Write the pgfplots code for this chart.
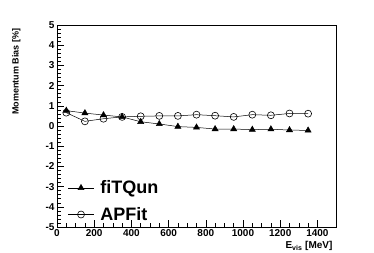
\documentclass[border=0pt]{standalone}
\usepackage{fontspec}
\setmainfont{Liberation Sans}
\usepackage{pgfplots}
\pgfplotsset{compat=1.18}
\begin{document}
\begin{tikzpicture}
\path[use as bounding box] (-57pt,-26pt) rectangle (317pt,227pt);
\begin{axis}[
  scale only axis, width=279pt, height=202pt,
  xmin=0, xmax=1500, ymin=-5, ymax=5,
  xtick={0,200,...,1400}, ytick={-5,-4,...,5},
  minor x tick num=3, minor y tick num=4,
  tick align=inside,
  xtick pos=bottom, ytick pos=left,
  major tick length=7pt, minor tick length=3.5pt,
  tick style={black, line width=0.5pt},
  axis line style={black, line width=0.7pt},
  /pgf/number format/assume math mode=true,
  /pgf/number format/set thousands separator={},
  ticklabel style={font=\fontsize{10}{10}\selectfont\bfseries},
  yticklabel style={xshift=1pt},
  xticklabel style={yshift=1pt},
  xlabel={E\textsubscript{vis} [MeV]},
  xlabel style={font=\fontsize{10}{10}\selectfont\bfseries, at={(axis description cs:1,0)}, anchor=north east, yshift=-11pt},
  ylabel={Momentum Bias [\%]},
  ylabel style={font=\fontsize{9}{10}\selectfont\bfseries, at={(axis description cs:0,1)}, anchor=south east, yshift=33pt},
  legend style={draw=none, fill=none, at={(0.035,0.01)}, anchor=south west, inner sep=1pt,
    font=\fontsize{18}{18}\selectfont\bfseries, legend cell align=left, row sep=8pt},
  legend image code/.code={\draw[mark repeat=2,mark phase=2] plot coordinates {(0cm,0cm)(0.45cm,0cm)(0.9cm,0cm)}; \path (1.05cm,0cm);},
]
\addplot[black, line width=0.5pt, mark=triangle*, mark size=3.5pt, mark options={fill=black}] coordinates {
(50,0.76) (150,0.64) (250,0.54) (350,0.45) (450,0.21) (550,0.10) (650,-0.03)
(750,-0.07) (850,-0.15) (950,-0.15) (1050,-0.18) (1150,-0.16) (1250,-0.20) (1350,-0.22)};
\addlegendentry{fiTQun}
\addplot[black, line width=0.5pt, mark=o, mark size=3.5pt, mark options={line width=0.6pt}] coordinates {
(50,0.66) (150,0.23) (250,0.36) (350,0.45) (450,0.48) (550,0.50) (650,0.50)
(750,0.56) (850,0.51) (950,0.45) (1050,0.56) (1150,0.53) (1250,0.62) (1350,0.61)};
\addlegendentry{APFit}
\end{axis}
\end{tikzpicture}
\end{document}
